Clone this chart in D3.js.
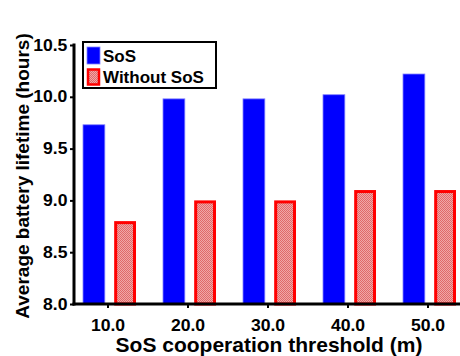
<!DOCTYPE html>
<html><head><meta charset="utf-8">
<script src="https://cdn.jsdelivr.net/npm/d3@7"></script>
<style>body{margin:0;background:#fff}svg{display:block}text{font-family:"Liberation Sans",Arial,sans-serif;font-weight:bold;fill:#000}</style>
</head><body>
<svg id="c" width="460" height="356"></svg>
<script>
const categories = ["10.0","20.0","30.0","40.0","50.0"];
const seriesNames = ["SoS","Without SoS"];
const sosValues = [9.73, 9.98, 9.98, 10.02, 10.22];
const withoutValues = [8.8, 9.0, 9.0, 9.1, 9.1];
const yTicks = [8.0, 8.5, 9.0, 9.5, 10.0, 10.5];

const svg = d3.select("#c");
const defs = svg.append("defs");
const pat = defs.append("pattern").attr("id","hatch").attr("patternUnits","userSpaceOnUse").attr("width",2).attr("height",2);
pat.append("rect").attr("width",2).attr("height",2).attr("fill","#f0a8a8");
pat.append("rect").attr("width",1).attr("height",1).attr("fill","#e06a6a");
pat.append("rect").attr("x",1).attr("y",1).attr("width",1).attr("height",1).attr("fill","#e06a6a");

const y = d3.scaleLinear().domain([8.0,10.5]).range([304,45]);
const x = d3.scaleBand().domain(categories).range([68,468]).padding(0);
const x1 = d3.scaleBand().domain(seriesNames).range([-25,28]).paddingInner(0.3).paddingOuter(0);

const data = categories.map((c,i)=>({c, vals:[{s:"SoS",v:sosValues[i]},{s:"Without SoS",v:withoutValues[i]}]}));

const g = svg.append("g");
const grp = g.selectAll("g.grp").data(data).join("g").attr("transform",d=>`translate(${x(d.c)+x.bandwidth()/2},0)`);
grp.selectAll("rect").data(d=>d.vals).join("rect")
  .attr("x",d=> d.s==="SoS" ? x1(d.s) : x1(d.s)+1.5)
  .attr("y",d=> d.s==="SoS" ? y(d.v) : y(d.v)+1.5)
  .attr("width",d=> d.s==="SoS" ? x1.bandwidth() : x1.bandwidth()-3)
  .attr("height",d=> d.s==="SoS" ? y(8)-y(d.v) : y(8)-y(d.v)-1.5)
  .attr("fill",d=> d.s==="SoS" ? "#0000ff" : "url(#hatch)")
  .attr("stroke",d=> d.s==="SoS" ? "#8080ff" : "#ff0000")
  .attr("stroke-width",d=> d.s==="SoS" ? 0.8 : 3);

// y axis
const yAxis = d3.axisLeft(y).tickValues(yTicks).tickFormat(d3.format(".1f")).tickSize(4).tickPadding(2);
const ya = svg.append("g").attr("transform","translate(74,0)").call(yAxis);
ya.select(".domain").attr("stroke","#000").attr("stroke-width",3).attr("d","M0,43.5V305.5");
ya.selectAll(".tick line").attr("stroke","#000").attr("stroke-width",2);
ya.selectAll(".tick text").style("font-size","16px").style("font-weight","bold").attr("font-family",null)
  .attr("transform","scale(1.1,1)");

// x axis
const xAxis = d3.axisBottom(x).tickSize(4).tickPadding(5);
const xa = svg.append("g").attr("transform","translate(0,304)").call(xAxis);
xa.select(".domain").attr("stroke","#000").attr("stroke-width",3).attr("d","M72.5,0H460");
xa.selectAll(".tick line").attr("stroke","#000").attr("stroke-width",2);
xa.selectAll(".tick text").style("font-size","16px").style("font-weight","bold").attr("font-family",null)
  .attr("transform","scale(1.1,1)").attr("dy","1.1em");

// titles
svg.append("text").attr("transform","translate(29,176) rotate(-90)").attr("text-anchor","middle")
  .style("font-size","19px").text("Average battery lifetime (hours)");
svg.append("text").attr("x",269).attr("y",352).attr("text-anchor","middle")
  .style("font-size","21px").text("SoS cooperation threshold (m)");

// legend
const lg = svg.append("g");
lg.append("rect").attr("x",83).attr("y",42).attr("width",133).attr("height",46).attr("fill","#fff").attr("stroke","#000").attr("stroke-width",2);
const items = [{n:"SoS",fill:"#0000ff",stroke:"#8080ff",sw:0.8},{n:"Without SoS",fill:"url(#hatch)",stroke:"#ff0000",sw:2.5}];
lg.selectAll("g.it").data(items).join("g").attr("transform",(d,i)=>`translate(0,${i*21})`).each(function(d){
  const s=d3.select(this);
  s.append("rect").attr("x",d.sw>1?88:87).attr("y",d.sw>1?48.5:47).attr("width",d.sw>1?11:13).attr("height",d.sw>1?15:17)
    .attr("fill",d.fill).attr("stroke",d.stroke).attr("stroke-width",d.sw);
  s.append("text").attr("x",103).attr("y",62).style("font-size","17px").text(d.n);
});
</script>
</body></html>
